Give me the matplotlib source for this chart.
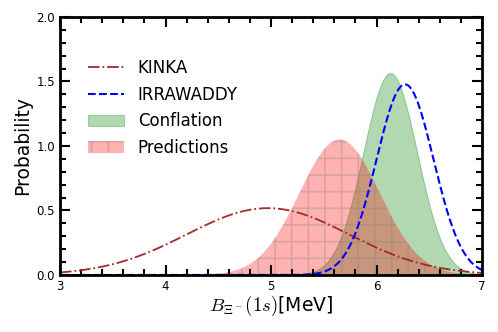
import numpy as np
import matplotlib
matplotlib.use("Agg")
import matplotlib.pyplot as plt
from matplotlib.ticker import MultipleLocator

plt.rcParams["mathtext.fontset"] = "cm"
plt.rcParams["hatch.linewidth"] = 1.2

# Distribution parameters (mean, sigma) of normal pdfs
series_names = ["KINKA", "IRRAWADDY", "Conflation", "Predictions"]
kinka_mean, kinka_sigma = 4.97, 0.77
irra_mean, irra_sigma = 6.27, 0.27
conf_mean, conf_sigma = 6.13, 0.255
pred_mean, pred_sigma = 5.65, 0.38

x_range = [3, 7]
y_range = [0, 2.0]
x_label = r"$B_{\Xi^-}(1s)$[MeV]"
y_label = "Probability"


def pdf(x, m, s):
    return np.exp(-0.5 * ((x - m) / s) ** 2) / (s * np.sqrt(2 * np.pi))


x = np.linspace(x_range[0], x_range[1], 800)

fig = plt.figure(figsize=(4.98, 3.32), dpi=100)
ax = fig.add_axes([0.1205, 0.1717, 0.968 - 0.1205, 0.949 - 0.1717])

l1, = ax.plot(x, pdf(x, kinka_mean, kinka_sigma), color="#a52a2a", ls="-.",
              lw=1.3, label=series_names[0])
l2, = ax.plot(x, pdf(x, irra_mean, irra_sigma), color="blue", ls="--",
              lw=1.5, label=series_names[1])
f1 = ax.fill_between(x, pdf(x, conf_mean, conf_sigma), color="green", alpha=0.3,
                     lw=0.8, label=series_names[2])
f2 = ax.fill_between(x, pdf(x, pred_mean, pred_sigma), facecolor="red",
                     edgecolor="gray", hatch="+", alpha=0.3, lw=0,
                     label=series_names[3])

ax.set_xlim(*x_range)
ax.set_ylim(*y_range)
ax.xaxis.set_major_locator(MultipleLocator(1))
ax.xaxis.set_minor_locator(MultipleLocator(0.2))
ax.yaxis.set_major_locator(MultipleLocator(0.5))
ax.yaxis.set_minor_locator(MultipleLocator(0.1))
ax.tick_params(which="both", direction="in", top=True, right=True,
               labelsize=8.5, width=1.5)
ax.tick_params(which="major", length=7)
ax.tick_params(which="minor", length=4)
for sp in ax.spines.values():
    sp.set_linewidth(2)

ax.set_xlabel(x_label, fontsize=13.5, labelpad=1)
ax.set_ylabel(y_label, fontsize=13.5, labelpad=3)

ax.legend(handles=[l1, l2, f1, f2], loc="upper left", frameon=False,
          fontsize=12, bbox_to_anchor=(0.03, 0.895), handlelength=2.2,
          labelspacing=0.52, handletextpad=0.8)

fig.savefig("out.png", dpi=100)
